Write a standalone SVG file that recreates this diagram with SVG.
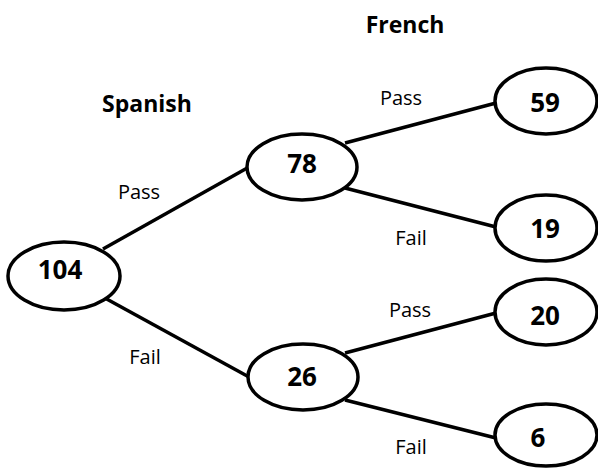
<svg xmlns="http://www.w3.org/2000/svg" width="598" height="468" viewBox="0 0 598 468">
<style>
.node ellipse{fill:#fff;stroke:#000;stroke-width:3.5}
.num{font-family:"Open Sans","Liberation Sans",sans-serif;font-weight:bold;font-size:26px;text-anchor:middle;fill:#000}
.title{font-family:"Open Sans","Liberation Sans",sans-serif;font-weight:bold;font-size:23px;text-anchor:middle;fill:#000}
.lbl{font-family:"Open Sans","Liberation Sans",sans-serif;font-size:20px;text-anchor:middle;fill:#000}
#connectors line{stroke:#000;stroke-width:3.5;stroke-linecap:butt}
</style>
<rect width="598" height="468" fill="#fff"/>
<g id="connectors">
<line x1="103" y1="249" x2="249" y2="167"/>
<line x1="103" y1="297" x2="249" y2="377"/>
<line x1="345" y1="143" x2="496" y2="103"/>
<line x1="345" y1="188" x2="496" y2="227"/>
<line x1="345" y1="353" x2="496" y2="313"/>
<line x1="345" y1="400" x2="496" y2="438"/>
</g>
<g id="labels">
<text class="title" x="405" y="33">French</text>
<text class="title" x="147" y="112">Spanish</text>
<text class="lbl" x="139" y="199">Pass</text>
<text class="lbl" x="145" y="364">Fail</text>
<text class="lbl" x="401" y="105">Pass</text>
<text class="lbl" x="411" y="245">Fail</text>
<text class="lbl" x="410" y="317">Pass</text>
<text class="lbl" x="411" y="454">Fail</text>
</g>
<g id="n104" class="node"><ellipse cx="64" cy="276" rx="56" ry="34"/><text class="num" x="60" y="279">104</text></g>
<g id="n78" class="node"><ellipse cx="302" cy="167" rx="55" ry="33"/><text class="num" x="302" y="173">78</text></g>
<g id="n26" class="node"><ellipse cx="303" cy="377" rx="55" ry="33"/><text class="num" x="302" y="386">26</text></g>
<g id="n59" class="node"><ellipse cx="546" cy="101" rx="51" ry="33"/><text class="num" x="545" y="112">59</text></g>
<g id="n19" class="node"><ellipse cx="546" cy="228" rx="51" ry="33"/><text class="num" x="545" y="238">19</text></g>
<g id="n20" class="node"><ellipse cx="546" cy="312" rx="51" ry="33"/><text class="num" x="545" y="325">20</text></g>
<g id="n6" class="node"><ellipse cx="546" cy="435" rx="51" ry="31"/><text class="num" x="538" y="447">6</text></g>
</svg>
